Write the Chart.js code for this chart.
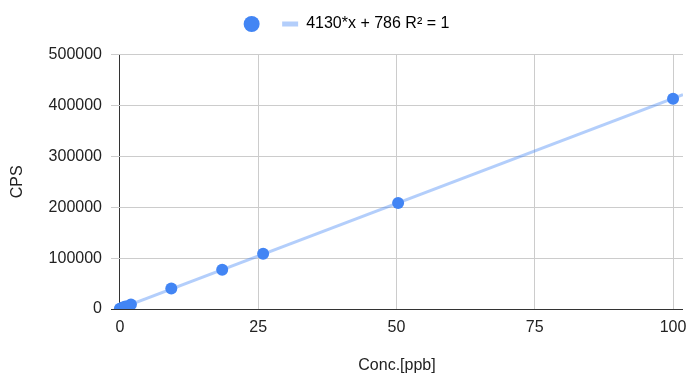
<!DOCTYPE html>
<html>
<head>
<meta charset="utf-8">
<script src="https://cdn.jsdelivr.net/npm/chart.js@4"></script>
<style>
  html, body { margin: 0; padding: 0; background: #fff; }
  #wrap { width: 689px; height: 374px; position: relative; }
</style>
</head>
<body>
<div id="wrap"><canvas id="calChart"></canvas></div>
<script>
// calibration data
const concValues = [0, 0.5, 1, 2, 9.3, 18.5, 25.9, 50.3, 100];
const cpsValues = [600, 2800, 4900, 9000, 40300, 77200, 108400, 208200, 413000];

// trendline
const trendSlope = 4130;
const trendIntercept = 786;
const rSquared = 1;

// axes
const xTicks = [0, 25, 50, 75, 100];
const xMin = -1.6;
const xMax = 101.8;
const yTicks = [0, 100000, 200000, 300000, 400000, 500000];

const pointColor = '#4285f4';
const trendColor = 'rgba(66, 133, 244, 0.4)';
const fontFamily = "Arial, 'Liberation Sans', sans-serif";

const trendLabel = trendSlope + '*x + ' + trendIntercept + ' R\u00B2 = ' + rSquared;
const trendPoints = [xMin, xMax].map(x => ({ x: x, y: trendSlope * x + trendIntercept }));

// extra space under the legend, and nudge it a little right/down
const legendGap = {
    id: 'legendGap',
    beforeInit(chart) {
        const fit = chart.legend.fit;
        chart.legend.fit = function() {
            fit.bind(chart.legend)();
            this.height += 14;
        };
    },
    afterLayout(chart) {
        const lg = chart.legend;
        lg.left = 4;
        lg.right = chart.width;
        lg.top = 1.5;
        lg.bottom = lg.top + lg.height;
    }
};

new Chart(document.getElementById('calChart'), {
    type: 'scatter',
    data: {
        datasets: [{
            label: '',
            data: concValues.map((x, i) => ({ x: x, y: cpsValues[i] })),
            backgroundColor: pointColor,
            borderColor: pointColor,
            borderWidth: 0,
            pointRadius: 6,
            pointHoverRadius: 6
        }, {
            type: 'line',
            label: trendLabel,
            data: trendPoints,
            borderColor: trendColor,
            borderWidth: 3,
            pointRadius: 0,
            fill: false,
            tension: 0
        }]
    },
    options: {
        responsive: true,
        maintainAspectRatio: false,
        animation: false,
        devicePixelRatio: 1,
        layout: { padding: { left: 0, right: 4, top: 0, bottom: 0 } },
        plugins: {
            tooltip: { enabled: false },
            legend: {
                position: 'top',
                align: 'center',
                labels: {
                    usePointStyle: true,
                    boxWidth: 16,
                    boxHeight: 11.3,
                    padding: 14.5,
                    color: '#222',
                    font: { family: fontFamily, size: 16 },
                    generateLabels: function(chart) {
                        return [{
                            text: '',
                            pointStyle: 'circle',
                            fillStyle: pointColor,
                            strokeStyle: pointColor,
                            lineWidth: 0,
                            datasetIndex: 0
                        }, {
                            text: trendLabel,
                            pointStyle: 'line',
                            fillStyle: trendColor,
                            strokeStyle: trendColor,
                            lineWidth: 5,
                            datasetIndex: 1
                        }];
                    }
                }
            }
        },
        scales: {
            x: {
                type: 'linear',
                min: xMin,
                max: xMax,
                afterBuildTicks: s => { s.ticks = xTicks.map(v => ({ value: v })); },
                afterFit: s => {
                    s.height = 65;
                    s.paddingLeft = 0;
                    s.paddingRight = 0;
                },
                border: { display: false },
                grid: {
                    drawTicks: false,
                    color: c => c.tick && c.tick.value === 0 ? '#333' : '#cccccc',
                    lineWidth: 1
                },
                ticks: {
                    padding: 9,
                    autoSkip: false,
                    maxRotation: 0,
                    color: '#222',
                    font: { family: fontFamily, size: 16 },
                    callback: v => String(v)
                },
                title: {
                    display: true,
                    text: 'Conc.[ppb]',
                    color: '#222',
                    font: { family: fontFamily, size: 16 },
                    padding: { top: 17.6, bottom: -1.5 }
                }
            },
            y: {
                min: 0,
                max: 500000,
                afterBuildTicks: s => { s.ticks = yTicks.map(v => ({ value: v })); },
                afterFit: s => { s.width = 111; },
                border: { display: false },
                grid: {
                    drawTicks: false,
                    color: c => c.tick && c.tick.value === 0 ? '#333' : '#cccccc',
                    lineWidth: 1
                },
                ticks: {
                    padding: 9,
                    color: '#222',
                    font: { family: fontFamily, size: 16 },
                    callback: v => String(v)
                },
                title: {
                    display: true,
                    text: 'CPS',
                    color: '#222',
                    font: { family: fontFamily, size: 16 },
                    padding: { top: 8.4, bottom: 21 }
                }
            }
        }
    },
    plugins: [legendGap]
});
</script>
</body>
</html>
